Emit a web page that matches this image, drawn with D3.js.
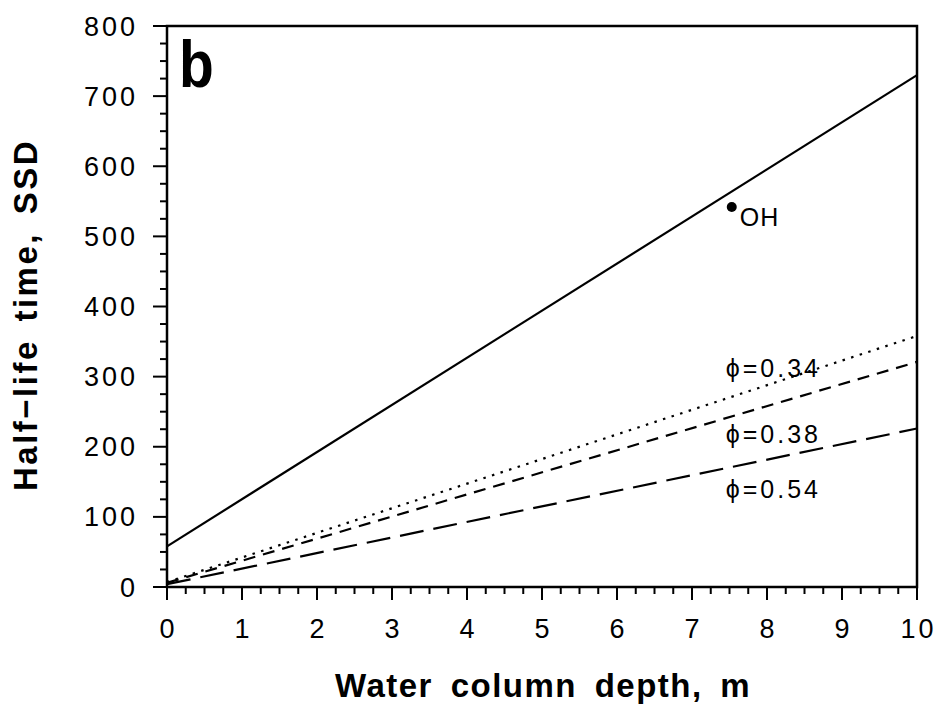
<!DOCTYPE html>
<html><head><meta charset="utf-8">
<script src="https://cdn.jsdelivr.net/npm/d3@7"></script>
<style>body{margin:0;background:#fff}text{font-family:"Liberation Sans",Arial,sans-serif}</style>
</head><body><svg id="c" width="937" height="704"></svg>
<script>
const xTicks=[0,1,2,3,4,5,6,7,8,9,10];
const yTicks=[0,100,200,300,400,500,600,700,800];
const depth=[0,10];
const solidOH=[58,730];
const phi034=[7,358];
const phi038=[6,321];
const phi054=[4,226];
const pointOH={x:7.53,y:542};
const labels=[{t:"\u03d5=0.34",x:7.45,y:300},{t:"\u03d5=0.38",x:7.45,y:205},{t:"\u03d5=0.54",x:7.45,y:127}];

const svg=d3.select("#c");
const L=167,R=917,T=26,B=587;
const x=d3.scaleLinear().domain([0,10]).range([L,R]);
const y=d3.scaleLinear().domain([0,800]).range([B,T]);

const xm=d3.range(0,10.001,0.25), ym=d3.range(0,800.1,25);
svg.append("g").selectAll("line").data(xm).join("line")
 .attr("x1",d=>x(d)).attr("x2",d=>x(d)).attr("y1",B).attr("y2",d=>Math.abs(d-Math.round(d))<1e-6?B+13:B+7)
 .attr("stroke","#000").attr("stroke-width",2);
svg.append("g").selectAll("line").data(ym).join("line")
 .attr("y1",d=>y(d)).attr("y2",d=>y(d)).attr("x1",L).attr("x2",d=>d%100===0?L-14:L-7)
 .attr("stroke","#000").attr("stroke-width",2);

svg.append("g").selectAll("text").data(xTicks).join("text")
 .attr("x",d=>x(d)+1.5).attr("y",B+51).attr("text-anchor","middle").attr("font-size",27).attr("letter-spacing",3).text(d=>d);
svg.append("g").selectAll("text").data(yTicks).join("text")
 .attr("x",L-29).attr("y",d=>y(d)+9.5).attr("text-anchor","end").attr("font-size",27).attr("letter-spacing",3).text(d=>d);

const line=d3.line().x(d=>x(d[0])).y(d=>y(d[1]));
const mk=v=>depth.map((d,i)=>[d,v[i]]);
svg.append("path").attr("d",line(mk(solidOH))).attr("fill","none").attr("stroke","#000").attr("stroke-width",2.2);
svg.append("path").attr("d",line(mk(phi034))).attr("fill","none").attr("stroke","#000").attr("stroke-width",2.2).attr("stroke-dasharray","2.5,6.5");
svg.append("path").attr("d",line(mk(phi038))).attr("fill","none").attr("stroke","#000").attr("stroke-width",2.2).attr("stroke-dasharray","12,8");
svg.append("path").attr("d",line(mk(phi054))).attr("fill","none").attr("stroke","#000").attr("stroke-width",2.2).attr("stroke-dasharray","24,10");

svg.append("circle").attr("cx",x(pointOH.x)).attr("cy",y(pointOH.y)).attr("r",5).attr("fill","#000");
svg.append("text").attr("x",x(pointOH.x)+8).attr("y",y(pointOH.y)+19).attr("font-size",25).attr("letter-spacing",1).text("OH");

svg.append("g").selectAll("text").data(labels).join("text")
 .attr("x",d=>x(d.x)).attr("y",d=>y(d.y)).attr("font-size",25).attr("letter-spacing",3).text(d=>d.t);

svg.append("rect").attr("x",L).attr("y",T).attr("width",R-L).attr("height",B-T).attr("fill","none").attr("stroke","#000").attr("stroke-width",2.5);

svg.append("text").attr("transform","translate(179,87) scale(0.85,1)").attr("font-size",67).attr("font-weight","bold").text("b");

svg.append("text").attr("x",335).attr("y",697).attr("font-size",33).attr("font-weight","bold")
 .attr("letter-spacing",1.5).attr("word-spacing",7).text("Water column depth, m");
svg.append("text").attr("transform",`translate(37,315) rotate(-90)`).attr("text-anchor","middle").attr("font-size",33).attr("font-weight","bold")
 .attr("letter-spacing",2.5).attr("word-spacing",6).text("Half\u2212life time, SSD");
</script></body></html>
